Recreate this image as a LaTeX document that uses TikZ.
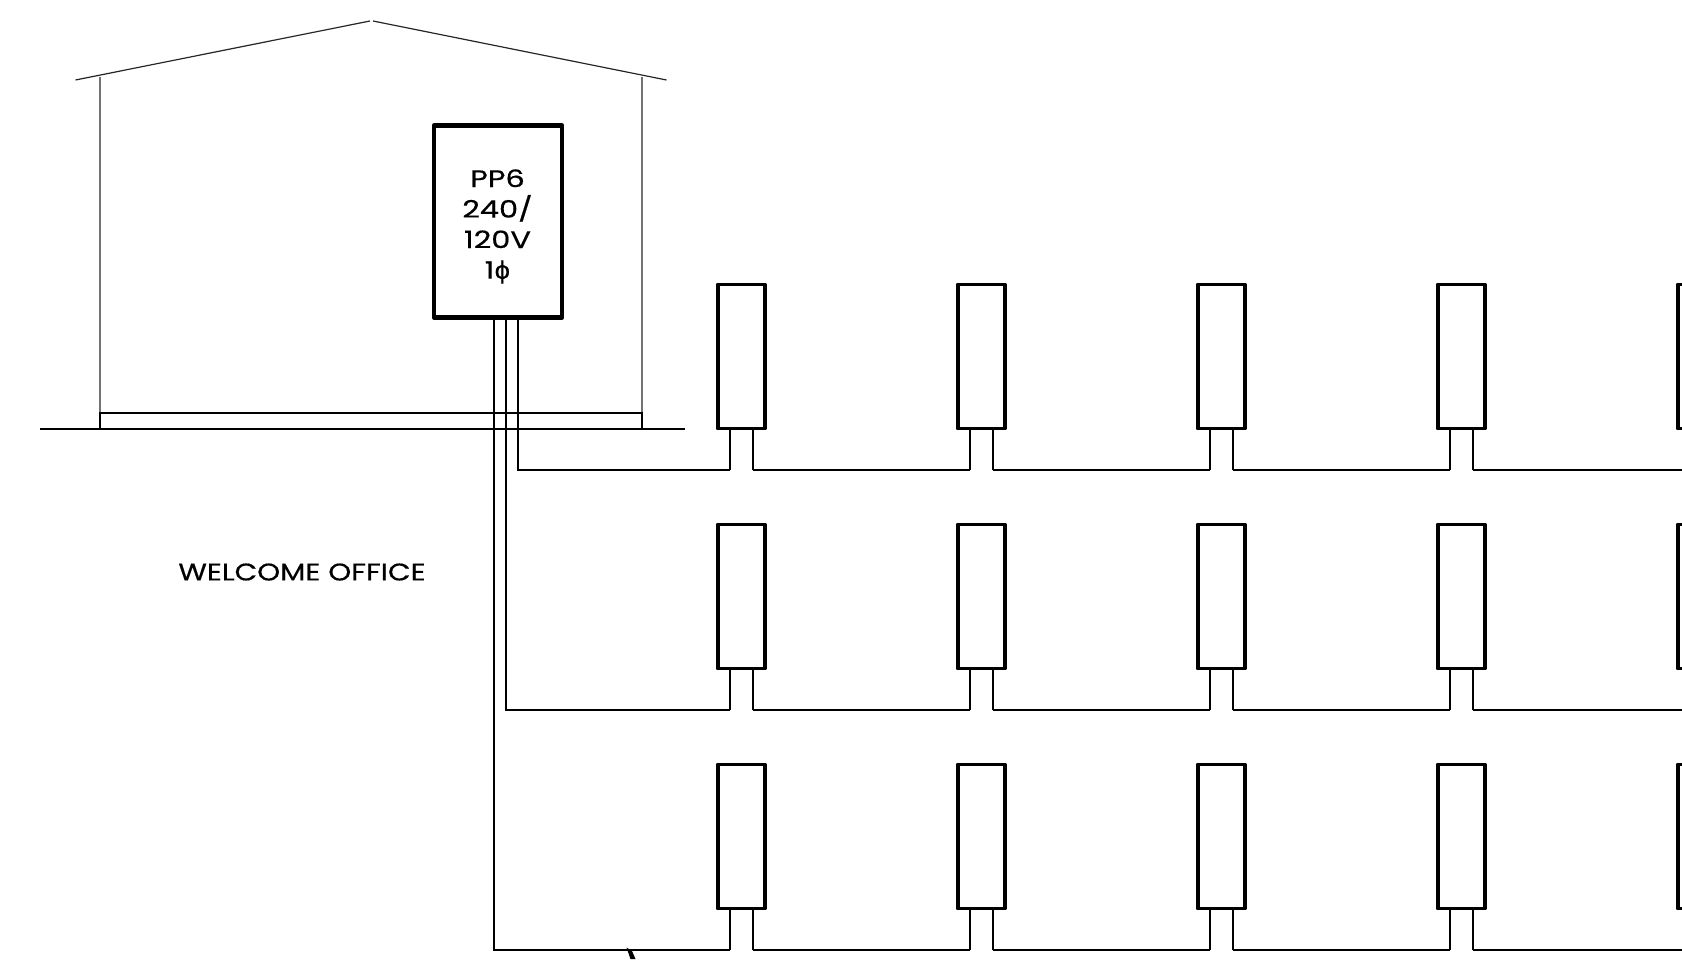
\documentclass[tikz,border=0pt]{standalone}
\usepackage{fontspec}
\setmainfont{Poppins}
\newfontfamily\phifont[FakeBold=0.5]{DejaVu Sans}
\newfontfamily\panelfont[FakeStretch=1.27,FakeBold=0.5]{Poppins}
\newfontfamily\labelfont[FakeStretch=1.22,FakeBold=0.5]{Poppins}
\tikzset{
  x=1pt,y=-1pt,
  wire/.style={draw=black,line width=1.7pt,line join=miter},
  thinline/.style={draw=black!85,line width=1.2pt},
  wallline/.style={draw=black!55,line width=1.3pt},
  ground/.style={draw=black,line width=1.8pt},
  pole/.style={draw=black,line width=3.8pt,line join=round,rectangle,minimum width=47pt,minimum height=144pt,inner sep=0pt,fill=white},
  panel/.style={draw=black,line width=4.4pt,line join=round,rectangle,minimum width=128pt,minimum height=192pt,inner sep=0pt},
  paneltext/.style={align=center,inner sep=0pt,font=\panelfont\fontsize{24}{30.5}\selectfont},
  labeltext/.style={inner sep=0pt,font=\labelfont\fontsize{24}{28}\selectfont}
}
\begin{document}
\begin{tikzpicture}
\useasboundingbox (0,0) rectangle (1682,959);
\clip (0,0) rectangle (1682,959);
% building
\coordinate (eaveL) at (75.5,80);
\coordinate (apexL) at (370,21);
\coordinate (apexR) at (373,21);
\coordinate (eaveR) at (666.5,80);
\draw[thinline] (eaveL) -- (apexL);
\draw[thinline] (apexR) -- (eaveR);
\coordinate (wallLt) at (100,76.5);
\coordinate (wallLb) at (100,413);
\coordinate (wallRt) at (642,76.5);
\coordinate (wallRb) at (642,413);
\draw[wallline] (wallLt) -- (wallLb);
\draw[wallline] (wallRt) -- (wallRb);
\coordinate (sillA) at (100,413);
\coordinate (sillB) at (642,429);
\draw[wire] (sillA) rectangle (sillB);
\coordinate (gndL) at (40,429);
\coordinate (gndR) at (685,429);
\draw[ground] (gndL) -- (gndR);
% panel
\node[panel] (pp) at (498,221.5) {};
\node[paneltext] (pptext) at (497.5,226.5) {PP6\\240/\\120V\\1{\phifont\char"03D5}};
% label
\node[labeltext,anchor=center] (office) at (302,572) {WELCOME OFFICE};
% panel feeders' start points
\coordinate (w1) at (518,319);
\coordinate (w2) at (506,319);
\coordinate (w3) at (494,319);
% poles
\foreach \r/\yy in {1/356.5,2/596.5,3/836.5}{
  \foreach \c/\xx in {1/741.3,2/981.3,3/1221.3,4/1461.3,5/1701.3}{
    \node[pole] (b\r\c) at (\xx,\yy) {};
    \coordinate (sl\r\c) at ([xshift=-11.6pt,yshift=-39.6pt]b\r\c.south);
    \coordinate (sr\r\c) at ([xshift=12pt,yshift=-39.6pt]b\r\c.south);
    \draw[wire] (sl\r\c) -- (sl\r\c |- b\r\c.south);
    \draw[wire] (sr\r\c) -- (sr\r\c |- b\r\c.south);
  }
  \draw[wire] (sr\r1) -- (sl\r2);
  \draw[wire] (sr\r2) -- (sl\r3);
  \draw[wire] (sr\r3) -- (sl\r4);
  \draw[wire] (sr\r4) -- (sl\r5);
}
\draw[wire] (w1) |- (sl11);
\draw[wire] (w2) |- (sl21);
\draw[wire] (w3) |- (sl31);
% mark at bottom edge
\fill[black] (626.5,947.5) -- (632,951) -- (635.5,959) -- (630.5,959) -- cycle;
\end{tikzpicture}
\end{document}
